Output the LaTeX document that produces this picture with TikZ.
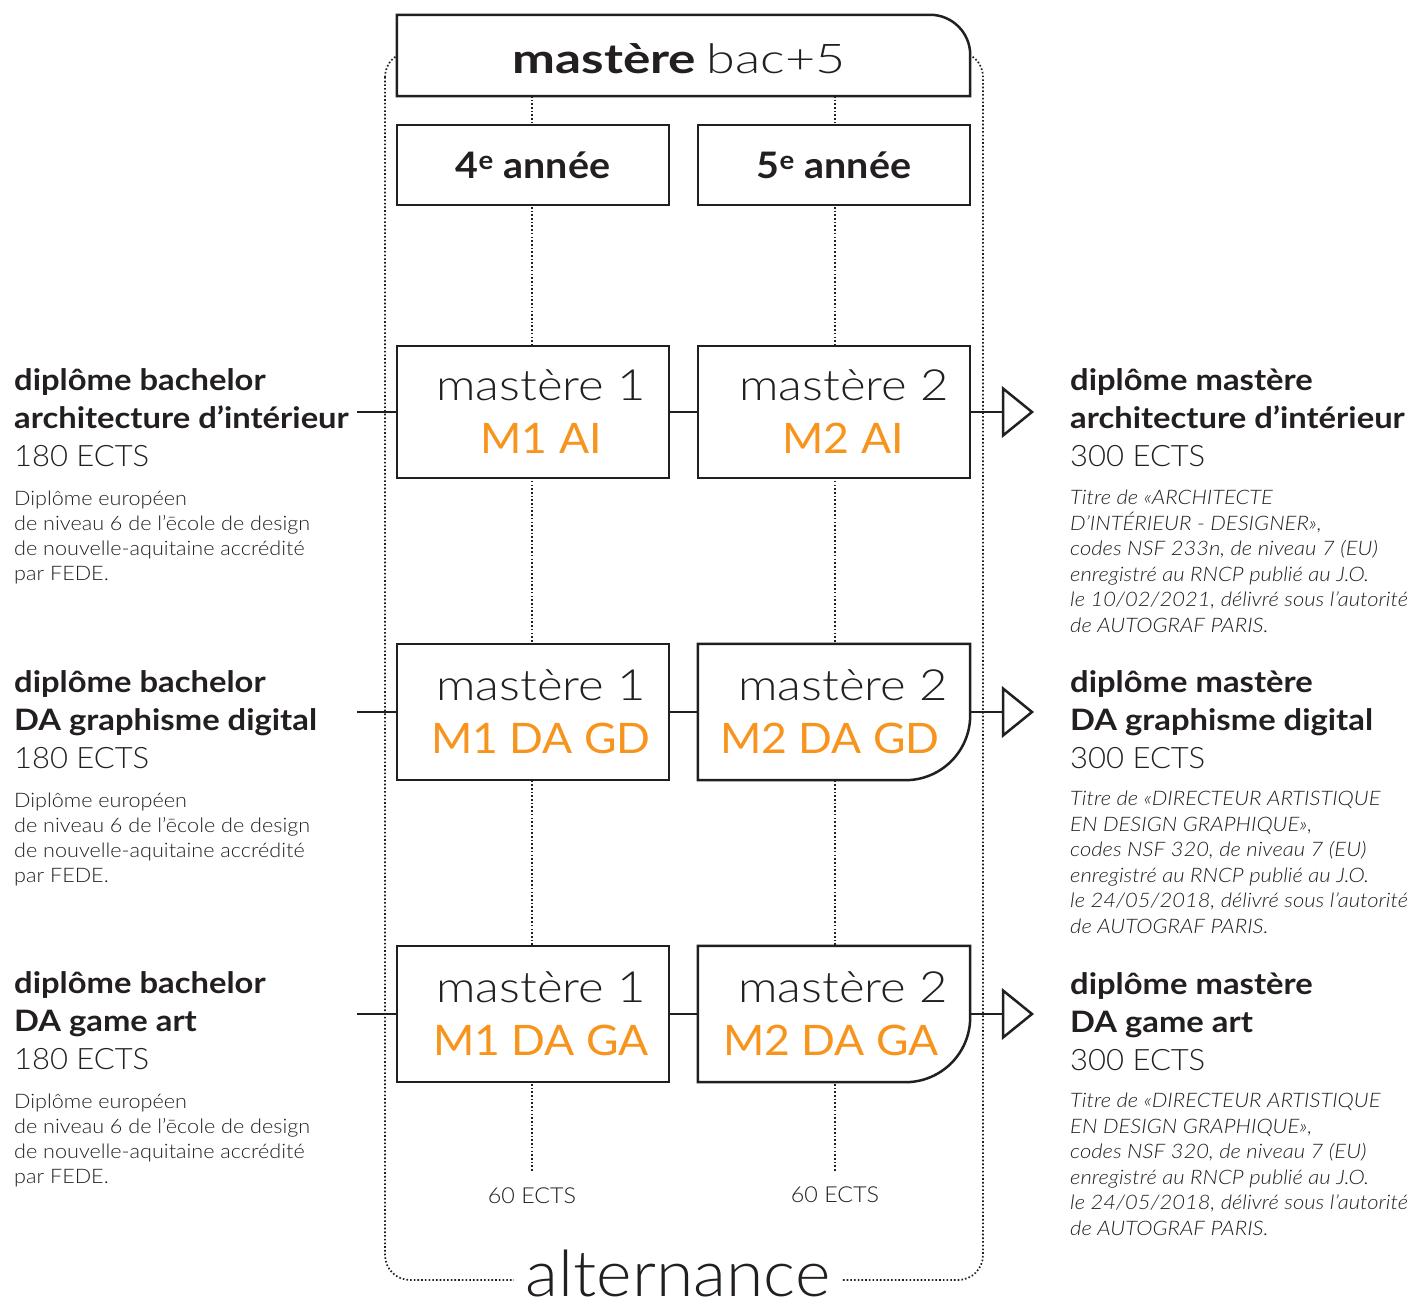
\documentclass[tikz,border=0pt]{standalone}
\usepackage{fontspec}
\setmainfont{Lato}
\newfontfamily\hb{Lato Bold}[FakeStretch=1.11]
\newfontfamily\hl{Lato Light}[FakeStretch=1.05]
\newfontfamily\sml{Lato Light}[FakeStretch=1.08]
\newfontfamily\smi{Lato Light Italic}[FakeStretch=1.10]
\newfontfamily\ml{Lato Light}[FakeStretch=1.14]
\newfontfamily\mc{Lato}[FakeStretch=1.06]
\newfontfamily\hdrb{Lato Bold}[FakeStretch=1.25]
\newfontfamily\hdrl{Lato Light}[FakeStretch=1.27]
\newfontfamily\yb{Lato Bold}[FakeStretch=1.08]
\newfontfamily\el{Lato Light}[FakeStretch=1.06]
\usetikzlibrary{calc}
\definecolor{ink}{HTML}{231F20}
\definecolor{orng}{HTML}{F7941D}
\begin{document}
\begin{tikzpicture}[x=1pt,y=-1pt,
  frame/.style={draw=ink, line width=2.5pt, fill=white, line join=miter},
  box/.style={rectangle, inner sep=0pt, minimum width=272pt},
  dots/.style={draw=ink, line width=1.7pt, dash pattern=on 1.6pt off 2.1pt},
  conn/.style={draw=ink, line width=2.5pt},
  ttl/.style={text=ink, font=\ml\fontsize{43}{43}\selectfont, anchor=base, inner sep=0pt},
  code/.style={text=orng, font=\mc\fontsize{42}{42}\selectfont, anchor=base, inner sep=0pt},
  bigtxt/.style={text=ink, font=\hb\fontsize{29.5}{38}\selectfont, align=left, anchor=base west, inner sep=0pt},
  smalltxt/.style={text=ink, font=\sml\fontsize{20}{25}\selectfont, align=left, anchor=base west, inner sep=0pt},
  ittxt/.style={text=ink, font=\smi\fontsize{20}{25.5}\selectfont, align=left, anchor=base west, inner sep=0pt},
  yeartxt/.style={text=ink, font=\yb\fontsize{36.5}{36.5}\selectfont}
]
\useasboundingbox[fill=white] (0,0) rectangle (1413,1297);

% dotted background
\draw[dots, rounded corners=25] (385,52) rectangle (983,1280);
\coordinate (d4a) at (532,96);
\coordinate (d4b) at (532,1172);
\coordinate (d5a) at (835,96);
\coordinate (d5b) at (835,1172);
\draw[dots] (d4a) -- (d4b);
\draw[dots] (d5a) -- (d5b);

% header
\node[box, minimum width=573pt, minimum height=81pt] (hdr) at (683.5,55.5) {};
\draw[frame] (hdr.south west) -- (hdr.north west) -- ($(hdr.north east)+(-40,0)$)
  .. controls ($(hdr.north east)+(-18,0)$) and ($(hdr.north east)+(0,18)$) .. ($(hdr.north east)+(0,40)$)
  -- (hdr.south east) -- cycle;
\node[text=ink, anchor=base, inner sep=0pt, font=\fontsize{41}{41}\selectfont] (hdrtxt) at (679,74)
  {{\hdrb mastère} {\hdrl bac+5}};

% years
\node[box, frame, minimum height=80pt, yeartxt] (y4) at (533,165) {4\textsuperscript{e} année};
\node[box, frame, minimum height=80pt, yeartxt] (y5) at (834,165) {5\textsuperscript{e} année};

% row 1
\node[box, frame, minimum height=132pt] (m1a) at (533,412) {};
\node[box, frame, minimum height=132pt] (m2a) at (834,412) {};
\node[ttl] (m1at) at ($(m1a.center)+(8,-12)$) {mastère 1};
\node[code] (m1ac) at ($(m1a.center)+(8,41)$) {M1 AI};
\node[ttl] (m2at) at ($(m2a.center)+(10,-12)$) {mastère 2};
\node[code] (m2ac) at ($(m2a.center)+(9,41)$) {M2 AI};

% row 2
\node[box, frame, minimum height=136pt] (m1b) at (533,712) {};
\node[box, minimum height=136pt] (m2b) at (834,712) {};
\draw[frame] (m2b.north west) -- (m2b.north east) -- ($(m2b.south east)+(0,-65)$)
  .. controls ($(m2b.south east)+(0,-29)$) and ($(m2b.south east)+(-29,0)$) .. ($(m2b.south east)+(-65,0)$)
  -- (m2b.south west) -- cycle;
\node[ttl] (m1bt) at ($(m1b.center)+(8,-12)$) {mastère 1};
\node[code] (m1bc) at ($(m1b.center)+(8,41)$) {M1 DA GD};
\node[ttl] (m2bt) at ($(m2b.center)+(9,-12)$) {mastère 2};
\node[code] (m2bc) at ($(m2b.center)+(-4,41)$) {M2 DA GD};

% row 3
\node[box, frame, minimum height=136pt] (m1c) at (533,1014) {};
\node[box, minimum height=136pt] (m2c) at (834,1014) {};
\draw[frame] (m2c.north west) -- (m2c.north east) -- ($(m2c.south east)+(0,-65)$)
  .. controls ($(m2c.south east)+(0,-29)$) and ($(m2c.south east)+(-29,0)$) .. ($(m2c.south east)+(-65,0)$)
  -- (m2c.south west) -- cycle;
\node[ttl] (m1ct) at ($(m1c.center)+(8,-12)$) {mastère 1};
\node[code] (m1cc) at ($(m1c.center)+(8,41)$) {M1 DA GA};
\node[ttl] (m2ct) at ($(m2c.center)+(9,-12)$) {mastère 2};
\node[code] (m2cc) at ($(m2c.center)+(-3,41)$) {M2 DA GA};

% connectors
\coordinate (l1) at (357,412);
\coordinate (l2) at (357,712);
\coordinate (l3) at (357,1014);
\draw[conn] (l1) -- (m1a.west);
\draw[conn] (l2) -- (m1b.west);
\draw[conn] (l3) -- (m1c.west);
\draw[conn] (m1a.east) -- (m2a.west);
\draw[conn] (m1b.east) -- (m2b.west);
\draw[conn] (m1c.east) -- (m2c.west);
\coordinate (a1) at (1003,412);
\coordinate (a2) at (1003,712);
\coordinate (a3) at (1003,1014);
\draw[conn] (m2a.east) -- (a1);
\draw[conn] (m2b.east) -- (a2);
\draw[conn] (m2c.east) -- (a3);
\foreach \a in {a1,a2,a3}{
  \draw[frame] ($(\a)+(0,-23.5)$) -- ($(\a)+(29,0)$) -- ($(\a)+(0,23.5)$) -- cycle;
}

% left texts (base anchor = last line)
\node[bigtxt] (lb1) at (14,466) {diplôme bachelor\\architecture d’intérieur\\{\hl 180 ECTS}};
\node[smalltxt] (ls1) at (14,580) {Diplôme européen\\de niveau 6 de l’ēcole de design\\de nouvelle-aquitaine accrédité\\par FEDE.};
\node[bigtxt] (lb2) at (14,768) {diplôme bachelor\\DA graphisme digital\\{\hl 180 ECTS}};
\node[smalltxt] (ls2) at (14,882) {Diplôme européen\\de niveau 6 de l’ēcole de design\\de nouvelle-aquitaine accrédité\\par FEDE.};
\node[bigtxt] (lb3) at (14,1069) {diplôme bachelor\\DA game art\\{\hl 180 ECTS}};
\node[smalltxt] (ls3) at (14,1183) {Diplôme européen\\de niveau 6 de l’ēcole de design\\de nouvelle-aquitaine accrédité\\par FEDE.};

% right texts
\node[bigtxt] (rb1) at (1070,466) {diplôme mastère\\architecture d’intérieur\\{\hl 300 ECTS}};
\node[ittxt] (ri1) at (1070,632) {Titre de «ARCHITECTE\\D’INTÉRIEUR - DESIGNER»,\\codes NSF 233n, de niveau 7 (EU)\\enregistré au RNCP publié au J.O.\\le 10/02/2021, délivré sous l’autorité\\de AUTOGRAF PARIS.};
\node[bigtxt] (rb2) at (1070,768) {diplôme mastère\\DA graphisme digital\\{\hl 300 ECTS}};
\node[ittxt] (ri2) at (1070,933) {Titre de «DIRECTEUR ARTISTIQUE\\EN DESIGN GRAPHIQUE»,\\codes NSF 320, de niveau 7 (EU)\\enregistré au RNCP publié au J.O.\\le 24/05/2018, délivré sous l’autorité\\de AUTOGRAF PARIS.};
\node[bigtxt] (rb3) at (1070,1070) {diplôme mastère\\DA game art\\{\hl 300 ECTS}};
\node[ittxt] (ri3) at (1070,1235) {Titre de «DIRECTEUR ARTISTIQUE\\EN DESIGN GRAPHIQUE»,\\codes NSF 320, de niveau 7 (EU)\\enregistré au RNCP publié au J.O.\\le 24/05/2018, délivré sous l’autorité\\de AUTOGRAF PARIS.};

% bottom
\node[text=ink, font=\el\fontsize{22}{22}\selectfont, anchor=base, inner sep=0pt] (e4) at (532,1203) {60 ECTS};
\node[text=ink, font=\el\fontsize{22}{22}\selectfont, anchor=base, inner sep=0pt] (e5) at (835,1202) {60 ECTS};
\node[text=ink, fill=white, font=\el\fontsize{64}{64}\selectfont, anchor=base, inner xsep=12pt, inner ysep=0pt] (alt) at (678,1296) {alternance};
\end{tikzpicture}
\end{document}
